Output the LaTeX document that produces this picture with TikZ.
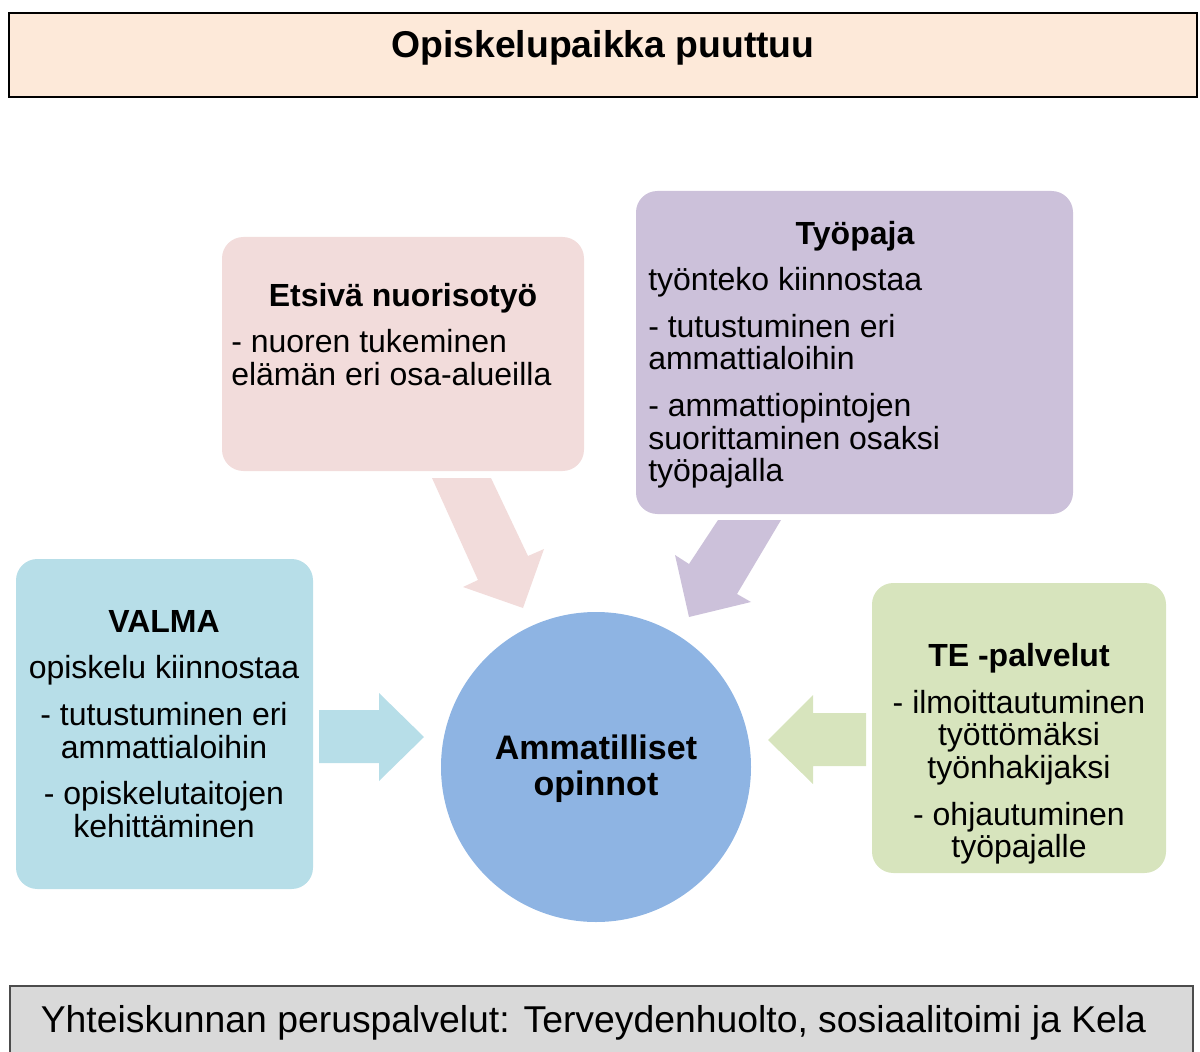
\documentclass[tikz,border=0pt]{standalone}
\usepackage{fontspec}
\setmainfont{Liberation Sans}
\definecolor{peach}{HTML}{FDE9D9}
\definecolor{pinkbox}{HTML}{F2DCDB}
\definecolor{purplebox}{HTML}{CCC1DA}
\definecolor{bluebox}{HTML}{B7DEE8}
\definecolor{greenbox}{HTML}{D7E4BD}
\definecolor{circ}{HTML}{8EB4E3}
\definecolor{graybox}{HTML}{D9D9D9}
\begin{document}
\begin{tikzpicture}[x=0.75pt,y=-0.75pt,
  box/.style={rounded corners=16pt, draw=none, inner sep=0pt, rectangle},
  bannerbox/.style={draw=black, line width=0.8pt, inner sep=0pt, rectangle},
  bodytext/.style={font=\fontsize{24}{24.5}\selectfont, inner sep=0pt},
  headtext/.style={font=\bfseries\fontsize{24}{24.5}\selectfont, inner sep=0pt},
  bigtext/.style={font=\fontsize{28}{30}\selectfont, inner sep=0pt},
  blockarrow/.style={draw=none}]
\useasboundingbox (0,0) rectangle (1200,1052);

% top banner
\node[bannerbox, fill=peach, minimum width=1188*0.75pt, minimum height=84*0.75pt] (top) at (603,55) {};
\node[bigtext, font=\bfseries\fontsize{28}{30}\selectfont, anchor=base] (toptext) at (603,58) {Opiskelupaikka puuttuu};

% bottom banner
\node[bannerbox, draw=black!70, fill=graybox, minimum width=1183*0.75pt, minimum height=90*0.75pt] (bottom) at (601.5,1031) {};
\node[bigtext, anchor=base] (bottomtext) at (593.5,1032) {Yhteiskunnan peruspalvelut: Terveydenhuolto, sosiaalitoimi ja Kela};

% boxes
\node[box, fill=pinkbox, minimum width=362*0.75pt, minimum height=234*0.75pt] (etsiva) at (403,354) {};
\node[box, fill=purplebox, minimum width=437*0.75pt, minimum height=323*0.75pt] (tyopaja) at (854.5,352.5) {};
\node[box, fill=bluebox, minimum width=297*0.75pt, minimum height=330*0.75pt] (valma) at (164.5,724) {};
\node[box, fill=greenbox, minimum width=294*0.75pt, minimum height=290*0.75pt] (te) at (1019,728) {};
\node[circle, fill=circ, minimum size=310*0.75pt, inner sep=0pt] (amm) at (596,767) {};

% block arrows
\fill[pinkbox, blockarrow] (432,478) -- (491,478) -- (528,556) -- (544,549) -- (523,608) -- (463,587) -- (478,580) -- cycle;
\fill[purplebox, blockarrow] (718,520) -- (781,520) -- (737,594) -- (751,602) -- (689,617) -- (675,555) -- (689,564) -- cycle;
\fill[bluebox, blockarrow] (319,710) -- (379,710) -- (379,693) -- (424,737) -- (379,781) -- (379,763) -- (319,763) -- cycle;
\fill[greenbox, blockarrow] (866,713) -- (813,713) -- (813,695) -- (768,740) -- (813,784) -- (813,766) -- (866,766) -- cycle;

% texts
\node[headtext, anchor=base] (etsivahead) at (403,306) {Etsivä nuorisotyö};
\node[bodytext, anchor=north west, align=left] (etsivabody) at (231,329) {- nuoren tukeminen\\elämän eri osa-alueilla};

\node[headtext, anchor=base] (tyopajahead) at (855,244) {Työpaja};
\node[bodytext, anchor=north west, align=left] (tyopajabody) at (648,267)
  {työnteko kiinnostaa\\[10.5pt]- tutustuminen eri\\ammattialoihin\\[10.5pt]- ammattiopintojen\\suorittaminen osaksi\\työpajalla};

\node[bodytext, anchor=north, align=center] (valmatext) at (164,610)
  {\textbf{VALMA}\\[10.5pt]opiskelu kiinnostaa\\[10.5pt]- tutustuminen eri\\ammattialoihin\\[10.5pt]- opiskelutaitojen\\kehittäminen};

\node[bodytext, anchor=north, align=center] (tetext) at (1019,643)
  {\textbf{TE -palvelut}\\[10.5pt]- ilmoittautuminen\\työttömäksi\\työnhakijaksi\\[10.5pt]- ohjautuminen\\työpajalle};

\node[headtext, font=\bfseries\fontsize{25.5}{27}\selectfont, align=center] (ammtext) at (596,769) {Ammatilliset\\opinnot};
\end{tikzpicture}
\end{document}
